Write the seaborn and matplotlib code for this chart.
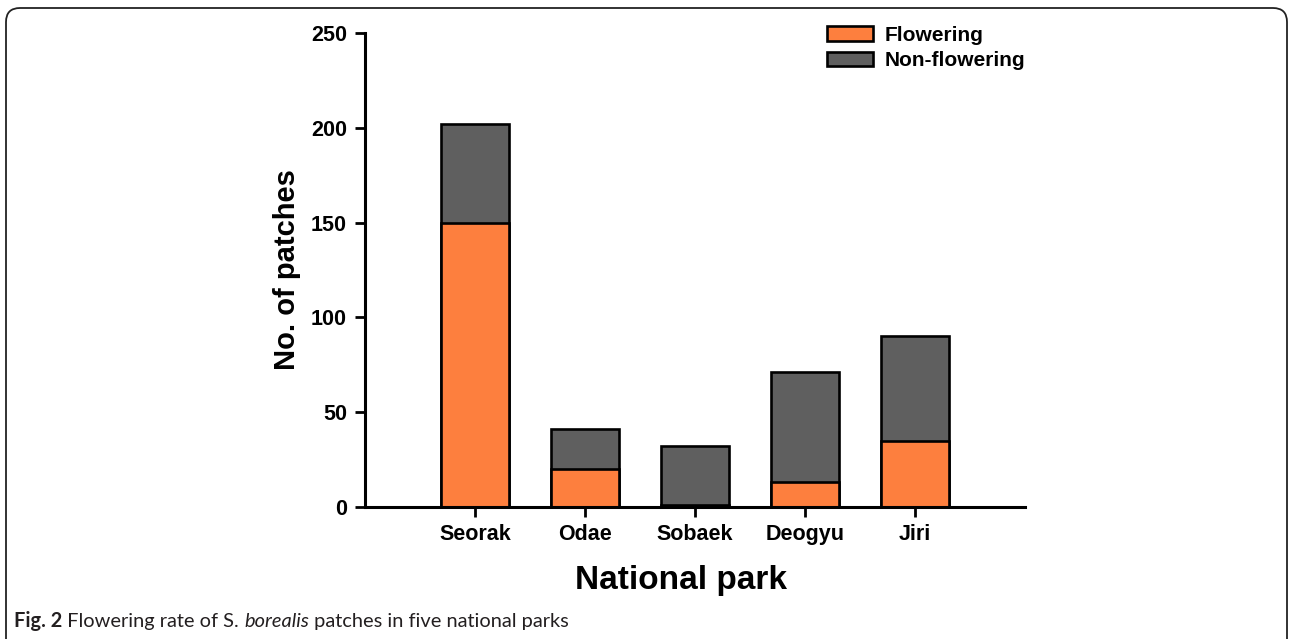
import matplotlib
matplotlib.use("Agg")
import matplotlib.pyplot as plt
import seaborn as sns
import pandas as pd
from matplotlib.patches import FancyBboxPatch, Patch
from matplotlib.transforms import IdentityTransform

# values
parks = ["Seorak", "Odae", "Sobaek", "Deogyu", "Jiri"]
flowering = [150, 20, 1, 13, 35]
non_flowering = [52, 21, 31, 58, 55]

orange = "#FD7F3E"
grey = "#5F5F5F"

sns.set_theme(style="ticks")
plt.rcParams["font.family"] = ["Liberation Sans", "DejaVu Sans"]
plt.rcParams["text.color"] = "black"
plt.rcParams["axes.labelcolor"] = "black"

df = pd.DataFrame({"park": parks, "flowering": flowering, "non_flowering": non_flowering})
df["total"] = df["flowering"] + df["non_flowering"]

fig = plt.figure(figsize=(12.89, 6.39), dpi=100)
ax = fig.add_axes([365 / 1289, 1 - 507 / 639, 660 / 1289, 474 / 639])

# total bar in grey, flowering part drawn over it
sns.barplot(data=df, x="park", y="total", color=grey, width=0.61,
            edgecolor="black", linewidth=1.9, saturation=1, ax=ax)
sns.barplot(data=df, x="park", y="flowering", color=orange, width=0.61,
            edgecolor="black", linewidth=1.9, saturation=1, ax=ax)

ax.set_xlim(-1, 5)
ax.set_ylim(0, 250)
ax.set_yticks([0, 50, 100, 150, 200, 250])
sns.despine(ax=ax)
for s in ["left", "bottom"]:
    ax.spines[s].set_linewidth(2.2)
    ax.spines[s].set_color("black")
ax.tick_params(axis="both", length=7, width=2, colors="black", labelsize=15.5)
for lab in ax.get_xticklabels() + ax.get_yticklabels():
    lab.set_fontweight("bold")
ax.tick_params(axis="x", pad=5)
ax.tick_params(axis="y", pad=6)

ax.set_xlabel("National park", fontsize=24, fontweight="bold")
ax.xaxis.set_label_coords((681 - 365) / 660, -58 / 474)
ax.set_ylabel("No. of patches", fontsize=21, fontweight="bold", labelpad=7)

handles = [Patch(facecolor=orange, edgecolor="black", linewidth=1.9),
           Patch(facecolor=grey, edgecolor="black", linewidth=1.9)]
leg = fig.legend(handles, ["Flowering", "Non-flowering"], loc="upper left",
                 bbox_to_anchor=(827 / 1289, 1 - 26 / 639), frameon=False,
                 prop={"weight": "bold", "size": 15}, handlelength=2.2,
                 handleheight=0.72, handletextpad=0.55, labelspacing=0.3,
                 borderaxespad=0, borderpad=0)

# rounded frame around the figure
frame = FancyBboxPatch((6, -30), 1281, 631 + 30,
                       boxstyle="round,pad=0,rounding_size=14",
                       transform=IdentityTransform(), facecolor="none",
                       edgecolor="#222222", linewidth=1.3)
fig.patches.append(frame)

# caption with mixed styles
fig.canvas.draw()
r = fig.canvas.get_renderer()
x = 14
y = 1 - 627 / 639
cap_font = ["Lato", "DejaVu Sans"]
parts = [("Fig. 2", "bold", "normal"), (" Flowering rate of S. ", "normal", "normal"),
         ("borealis", "normal", "italic"), (" patches in five national parks", "normal", "normal")]
for txt, w, st in parts:
    t = fig.text(x / 1289, y, txt, fontsize=14.4, fontweight=w, fontstyle=st,
                 family=cap_font, color="#231F20", va="baseline", ha="left")
    x += t.get_window_extent(renderer=r).width

fig.savefig("out.png", dpi=100)
